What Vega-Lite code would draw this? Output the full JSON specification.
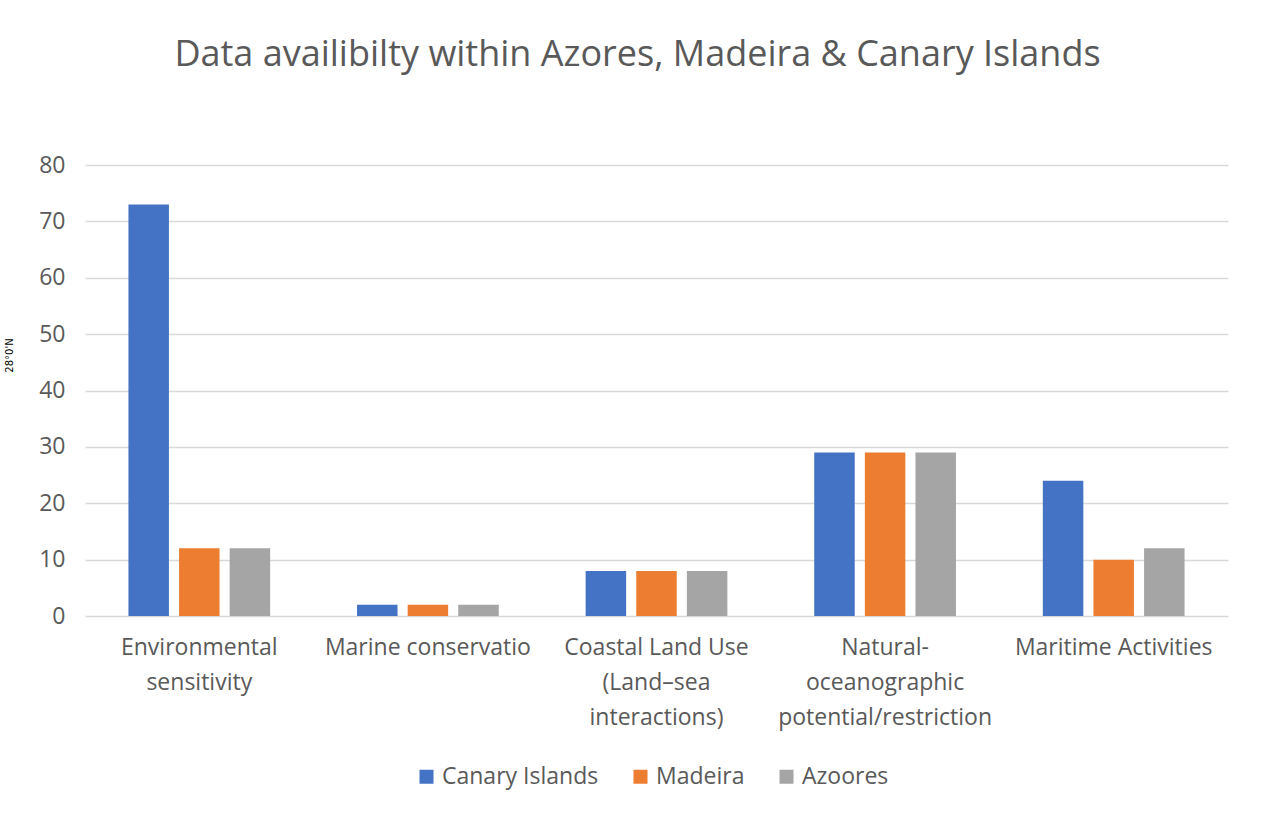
{
  "$schema": "https://vega.github.io/schema/vega-lite/v6.json",
  "width": 1143,
  "height": 451,
  "autosize": {"type": "none"},
  "padding": {"left": 85, "top": 165, "right": 33, "bottom": 198},
  "background": "white",
  "title": {
    "text": "Data availibilty within Azores, Madeira & Canary Islands",
    "font": "Open Sans",
    "fontSize": 36,
    "fontWeight": "normal",
    "color": "#595959",
    "anchor": "middle",
    "dx": -19,
    "offset": 80
  },
  "data": {
    "values": [
      {"category": "Environmental sensitivity", "region": "Canary Islands", "value": 73},
      {"category": "Environmental sensitivity", "region": "Madeira", "value": 12},
      {"category": "Environmental sensitivity", "region": "Azoores", "value": 12},
      {"category": "Marine conservatio", "region": "Canary Islands", "value": 2},
      {"category": "Marine conservatio", "region": "Madeira", "value": 2},
      {"category": "Marine conservatio", "region": "Azoores", "value": 2},
      {"category": "Coastal Land Use (Land–sea interactions)", "region": "Canary Islands", "value": 8},
      {"category": "Coastal Land Use (Land–sea interactions)", "region": "Madeira", "value": 8},
      {"category": "Coastal Land Use (Land–sea interactions)", "region": "Azoores", "value": 8},
      {"category": "Natural-oceanographic potential/restriction", "region": "Canary Islands", "value": 29},
      {"category": "Natural-oceanographic potential/restriction", "region": "Madeira", "value": 29},
      {"category": "Natural-oceanographic potential/restriction", "region": "Azoores", "value": 29},
      {"category": "Maritime Activities", "region": "Canary Islands", "value": 24},
      {"category": "Maritime Activities", "region": "Madeira", "value": 10},
      {"category": "Maritime Activities", "region": "Azoores", "value": 12}
    ]
  },
  "mark": {"type": "bar"},
  "encoding": {
    "x": {
      "field": "category",
      "type": "nominal",
      "sort": null,
      "scale": {"paddingInner": 0.38, "paddingOuter": 0.19},
      "axis": {
        "title": null,
        "domain": false,
        "ticks": false,
        "grid": false,
        "labelAngle": 0,
        "labelFont": "Open Sans",
        "labelFontSize": 23,
        "labelColor": "#595959",
        "labelLineHeight": 35,
        "labelPadding": 20,
        "labelBaseline": "top",
        "labelLimit": 400,
        "labelExpr": "datum.value == 'Environmental sensitivity' ? ['Environmental','sensitivity'] : datum.value == 'Coastal Land Use (Land–sea interactions)' ? ['Coastal Land Use','(Land–sea','interactions)'] : datum.value == 'Natural-oceanographic potential/restriction' ? ['Natural-','oceanographic','potential/restriction'] : datum.value"
      }
    },
    "xOffset": {
      "field": "region",
      "sort": ["Canary Islands", "Madeira", "Azoores"],
      "scale": {"paddingInner": 0.2, "paddingOuter": 0}
    },
    "y": {
      "field": "value",
      "type": "quantitative",
      "scale": {"domain": [0, 80]},
      "axis": {
        "title": "28°0'N",
        "titleFont": "DejaVu Sans",
        "titleFontSize": 10,
        "titleFontWeight": "normal",
        "titleColor": "#000000",
        "titlePadding": 24,
        "titleY": 190,
        "values": [0, 10, 20, 30, 40, 50, 60, 70, 80],
        "domain": false,
        "ticks": false,
        "labelFont": "Open Sans",
        "labelFontSize": 23,
        "labelColor": "#595959",
        "labelPadding": 20,
        "gridColor": "#D9D9D9",
        "gridWidth": 1.5
      }
    },
    "color": {
      "field": "region",
      "type": "nominal",
      "sort": ["Canary Islands", "Madeira", "Azoores"],
      "scale": {"domain": ["Canary Islands", "Madeira", "Azoores"], "range": ["#4472C4", "#ED7D31", "#A5A5A5"]},
      "legend": {
        "title": null,
        "orient": "none",
        "legendX": 330,
        "legendY": 600,
        "direction": "horizontal",
        "symbolType": "square",
        "symbolSize": 196,
        "symbolStrokeWidth": 0,
        "labelFont": "Open Sans",
        "labelFontSize": 23,
        "labelColor": "#595959",
        "columnPadding": 30
      }
    }
  },
  "config": {"view": {"stroke": null}}
}
